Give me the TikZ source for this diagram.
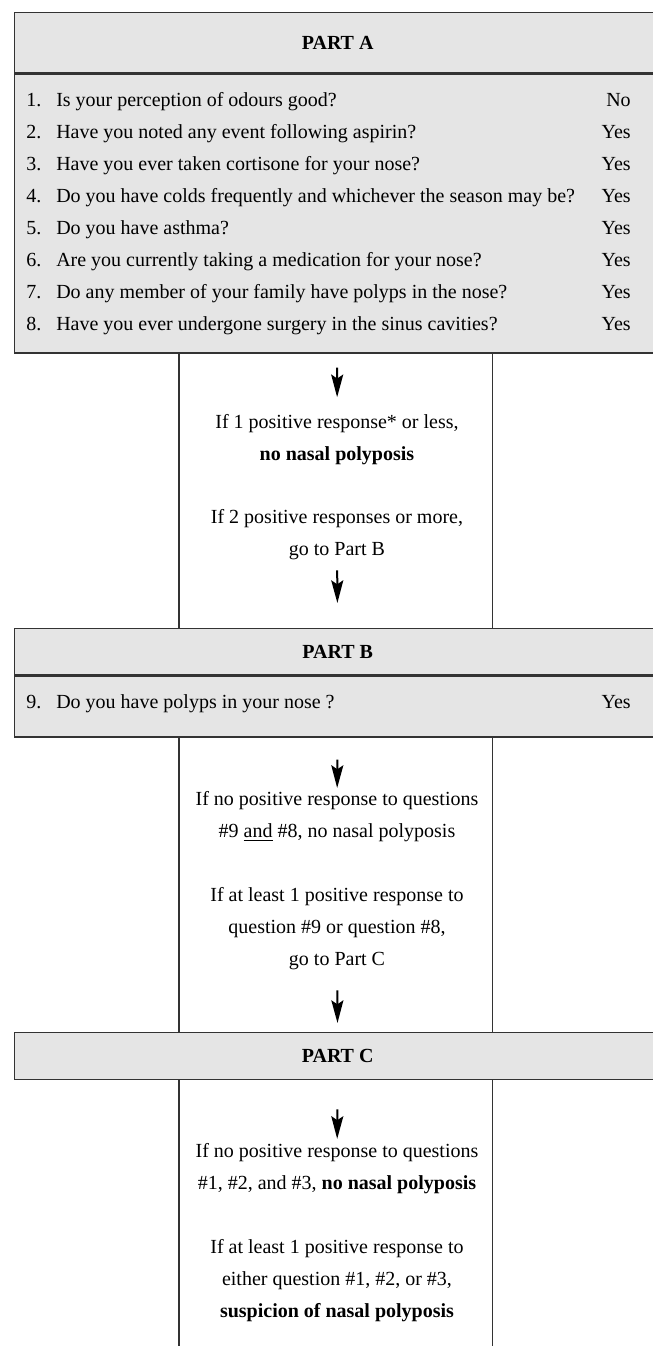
\documentclass[tikz,border=0pt]{standalone}
\usepackage{fontspec}
\setmainfont{Liberation Serif}
\usetikzlibrary{arrows.meta, positioning}
\tikzset{part/.style = {
  % Rectangle:
  rectangle,
  draw=black!80, line width=1pt,
  fill=black!10,
  minimum width=484.5pt,
  inner sep=0pt,
  % Text
  font=\fontsize{15}{24}\selectfont\bfseries
  }}
\tikzset{txt/.style = {
  align=center, inner sep=0pt,
  font=\fontsize{15}{24}\selectfont
  }}
\tikzset{row/.style = {
  inner sep=0pt,
  font=\fontsize{15}{24}\selectfont
  }}
\tikzset{arrowd/.style = {
  -{Stealth[length=17pt, width=9pt, inset=3pt]},
  line width=1.5pt,
  draw=black
  }}
\tikzset{col/.style = {
  draw=black!80,
  line width=1pt
  }}

\begin{document}
\begin{tikzpicture}[x=0.75pt, y=-0.75pt]
\useasboundingbox (0,0) rectangle (653,1346);
\clip (0,0) rectangle (653,1346);

% BOXES
\node (headA) [part, anchor=north west, minimum height=45pt] at (14,12) {PART A};
\node (bodyA) [part, minimum height=209.25pt, below=0pt of headA] {};

\node (headB) [part, anchor=north west, minimum height=34.5pt] at (14,628) {PART B};
\node (bodyB) [part, minimum height=45.75pt, below=0pt of headB] {};

\node (headC) [part, anchor=north west, minimum height=35.25pt] at (14,1032) {PART C};

% QUESTIONS
\foreach \i/\q/\a in {
  1/Is your perception of odours good?/No,
  2/Have you noted any event following aspirin?/Yes,
  3/Have you ever taken cortisone for your nose?/Yes,
  4/Do you have colds frequently and whichever the season may be?/Yes,
  5/Do you have asthma?/Yes,
  6/Are you currently taking a medication for your nose?/Yes,
  7/Do any member of your family have polyps in the nose?/Yes,
  8/Have you ever undergone surgery in the sinus cavities?/Yes}{
  \node (n\i) [row, anchor=mid west] at (26,{103+(\i-1)*32}) {\i.};
  \node (q\i) [row, anchor=mid west] at (56,{103+(\i-1)*32}) {\q};
  \node (a\i) [row, anchor=mid east] at (631,{103+(\i-1)*32}) {\a};
}
\node (n9) [row, anchor=mid west] at (26,705) {9.};
\node (q9) [row, anchor=mid west] at (56,705) {Do you have polyps in your nose ?};
\node (a9) [row, anchor=mid east] at (631,705) {Yes};

% RESULTS
\node (res1) [txt] at (337,440) {If 1 positive response* or less,\\ \textbf{no nasal polyposis}};
\node (res2) [txt] at (337,535) {If 2 positive responses or more,\\ go to Part B};

\node (res3) [txt] at (337,817) {If no positive response to questions\\ \#9 \underline{and} \#8, no nasal polyposis};
\node (res4) [txt] at (337,929) {If at least 1 positive response to\\ question \#9 or question \#8,\\ go to Part C};

\node (res5) [txt] at (337,1169) {If no positive response to questions\\ \#1, \#2, and \#3, \textbf{no nasal polyposis}};
\node (res6) [txt] at (337,1281) {If at least 1 positive response to\\ either question \#1, \#2, or \#3,\\ \textbf{suspicion of nasal polyposis}};

% columns
\coordinate (colL) at (179,0);
\coordinate (colR) at (492.5,0);
\coordinate (bot) at (0,1350);
\foreach \c in {colL, colR}{
  \draw [col] (bodyA.south -| \c) -- (headB.north -| \c);
  \draw [col] (bodyB.south -| \c) -- (headC.north -| \c);
  \draw [col] (headC.south -| \c) -- (bot -| \c);
}

% arrows
\draw [arrowd, shorten <=10.5pt, shorten >=13pt] (bodyA) -- (res1);
\draw [arrowd, shorten <=7.5pt, shorten >=18.75pt] (res2) -- (headB);
\draw [arrowd, shorten <=16.5pt, shorten >=2.7pt] (bodyB) -- (res3);
\draw [arrowd, shorten <=15pt, shorten >=6.75pt] (res4) -- (headC);
\draw [arrowd, shorten <=21.75pt, shorten >=3.5pt] (headC) -- (res5);
\end{tikzpicture}
\end{document}
